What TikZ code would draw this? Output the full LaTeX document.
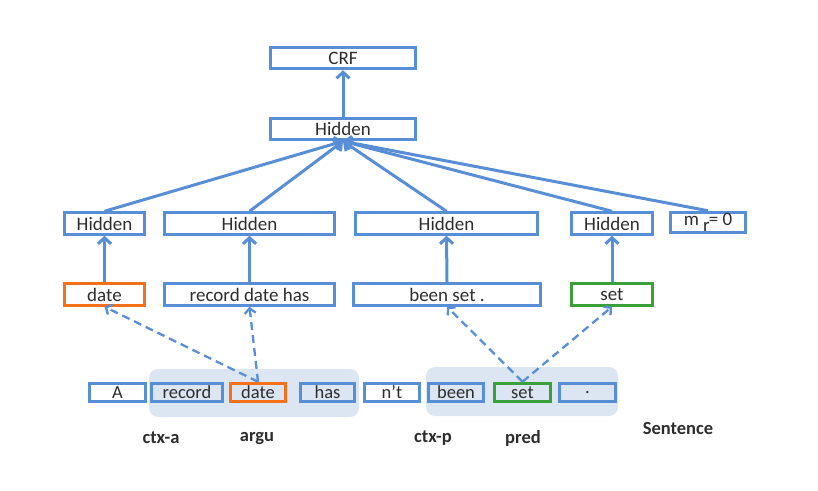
\documentclass[tikz,border=0pt]{standalone}
\usepackage{fontspec}
\setmainfont{Carlito}
\usetikzlibrary{arrows.meta}
\definecolor{bl}{RGB}{88,142,214}
\definecolor{orng}{RGB}{245,112,22}
\definecolor{grn}{RGB}{58,160,58}
\definecolor{shade}{RGB}{220,230,242}
\definecolor{txt}{RGB}{45,45,45}
\tikzset{
  box/.style={draw=bl, line width=3pt, fill=white, inner sep=0pt, minimum height=21.5pt, font=\fontsize{19}{19}\selectfont, text=txt},
  sbox/.style={box, minimum height=18.5pt, font=\fontsize{18.5}{18.5}\selectfont},
  clear/.style={fill=none},
  arr/.style={draw=bl, line width=3pt, -{Straight Barb[length=6pt,width=13pt]}},
  darr/.style={draw=bl, line width=2.3pt, dash pattern=on 8pt off 5pt, -{Straight Barb[length=5pt,width=11pt]}},
  lbl/.style={font=\fontsize{18.5}{18.5}\selectfont\bfseries, text=txt},
  region/.style={fill=shade, draw=none, rounded corners=9pt}
}
\begin{document}
\begin{tikzpicture}[x=1pt,y=-1pt]
\useasboundingbox (0,0) rectangle (818,490);
\fill[white] (0,0) rectangle (818,490);
% shaded regions
\fill[region] (149,369) rectangle (359,417);
\fill[region] (426,367) rectangle (618,416);
% top
\node[box, minimum width=145pt] (crf) at (343,58) {CRF};
\node[box, minimum width=145pt] (htop) at (343,129) {Hidden};
% hidden row
\node[box, minimum width=80pt] (h1) at (104.5,223.5) {Hidden};
\node[box, minimum width=170pt] (h2) at (249.5,223.5) {Hidden};
\node[box, minimum width=182pt] (h3) at (446.5,223.5) {Hidden};
\node[box, minimum width=81pt] (h4) at (612,223.5) {Hidden};
\node[box, minimum width=75pt, minimum height=20.5pt] (mr) at (708,222.5) {m \raisebox{-6pt}{r}\kern-1pt= 0};
% middle row
\node[box, draw=orng, minimum width=80pt] (d1) at (104.5,294.5) {date};
\node[box, minimum width=170pt] (rdh) at (249.5,294.5) {record date has};
\node[box, minimum width=187pt] (bs) at (447,294.5) {been set .};
\node[box, draw=grn, minimum width=81pt] (s1) at (612,294.5) {set};
% bottom row
\node[sbox, minimum width=56pt] (wa) at (117.5,392.5) {A};
\node[sbox, clear, minimum width=71pt] (wrecord) at (187,392.5) {record};
\node[sbox, clear, draw=orng, minimum width=55pt] (wdate) at (258,392.5) {date};
\node[sbox, clear, minimum width=54pt] (whas) at (327.5,392.5) {has};
\node[sbox, minimum width=55pt] (wnt) at (392,392.5) {n’t};
\node[sbox, clear, minimum width=55pt] (wbeen) at (456,392.5) {been};
\node[sbox, clear, draw=grn, minimum width=56pt] (wset) at (522.5,392.5) {set};
\node[sbox, clear, minimum width=56pt] (wdot) at (587.5,392.5) {.};
% labels
\node[lbl] (la) at (161,438) {ctx-a};
\node[lbl] (lb) at (257,438) {argu};
\node[lbl] (lc) at (433,438) {ctx-p};
\node[lbl] (ld) at (523,438) {pred};
\node[lbl] (le) at (678,428) {Sentence};
% arrows
\draw[arr] (htop.north) -- (crf.south);
\foreach \n in {h1,h2,h3,h4,mr} \draw[arr] (\n.north) -- (htop.south);
\draw[arr] (d1.north) -- (h1.south);
\draw[arr] (rdh.north) -- (h2.south);
\draw[arr] (bs.north) -- (h3.south);
\draw[arr] (s1.north) -- (h4.south);
% dashed
\draw[darr] (wdate.north) -- (d1.south);
\draw[darr] (wdate.north) -- (rdh.south);
\draw[darr] (wset.north) -- (bs.south);
\draw[darr] (wset.north) -- (s1.south);
\end{tikzpicture}
\end{document}
